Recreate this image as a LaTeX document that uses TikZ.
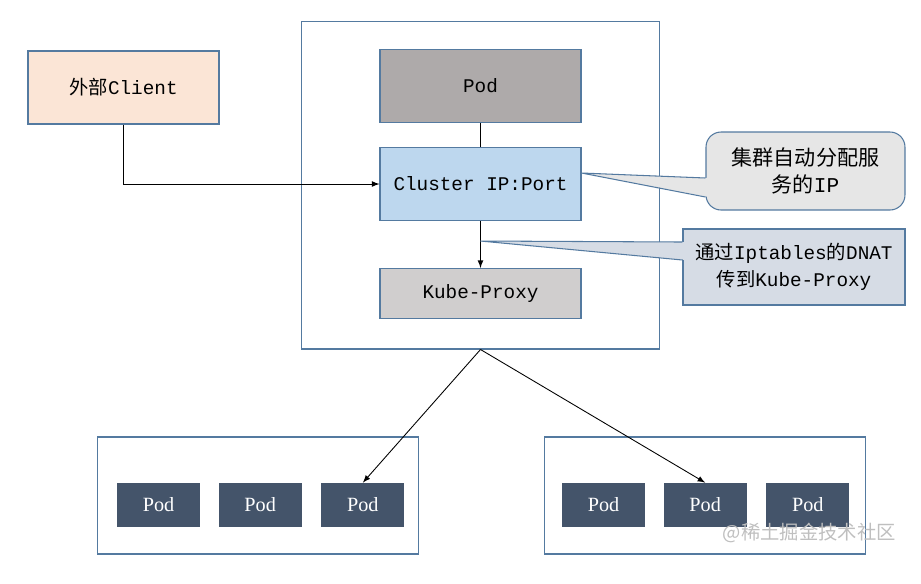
\documentclass[tikz,border=0pt]{standalone}
\usepackage{fontspec}
\setmainfont{Liberation Mono}
\newfontfamily\cjk{Noto Sans CJK SC}
\newfontfamily\podfont{Liberation Serif}
\usetikzlibrary{positioning,calc,arrows}

\definecolor{edgeblue}{RGB}{84,122,160}
\definecolor{clientfill}{RGB}{251,229,214}
\definecolor{podgray}{RGB}{174,170,170}
\definecolor{ipblue}{RGB}{189,215,238}
\definecolor{kpgray}{RGB}{208,206,206}
\definecolor{notegray}{RGB}{230,230,230}
\definecolor{noteblue}{RGB}{214,220,229}
\definecolor{poddark}{RGB}{68,84,106}

\begin{document}
\begin{tikzpicture}[
    x=0.02cm, y=-0.02cm,
    box/.style={rectangle, draw=edgeblue, line width=0.6pt, minimum width=4.02cm, minimum height=1.46cm, align=center, font=\fontsize{11}{15}\selectfont},
    pod/.style={rectangle, fill=poddark, text=white, minimum width=1.66cm, minimum height=0.88cm, font=\podfont\fontsize{11.5}{14}\selectfont},
    group/.style={rectangle, draw=edgeblue, line width=0.6pt, minimum width=6.44cm, minimum height=2.34cm},
    arrow/.style={-latex, line width=0.5pt}
]
    \useasboundingbox (0,0) rectangle (921,583);

    % cluster node
    \node[group, minimum width=7.18cm, minimum height=6.56cm] (cluster) at (480.5,185) {};
    \node[box, fill=ipblue] (cip) at (480.5,184) {Cluster IP:Port};
    \node[box, fill=podgray, above=0.48cm of cip] (master) {Pod};
    \node[box, fill=kpgray, minimum height=1cm, below=0.94cm of cip] (kp) {Kube-Proxy};
    \node[box, fill=clientfill, minimum width=3.82cm] (client) at (123.5,87.5) {{\cjk 外部}Client};

    \draw[line width=0.5pt] (master) -- (cip);
    \draw[arrow] (cip) -- (kp);
    \draw[arrow] (client.south) |- (cip.west);

    % notes
    \node[box, fill=notegray, rounded corners=0.3cm, minimum width=3.98cm, minimum height=1.56cm, font=\fontsize{12}{15}\selectfont] (note1) at (805.5,171) {{\cjk 集群自动分配服}\\{\cjk 务的}IP};
    \node[box, fill=noteblue, minimum width=4.44cm, minimum height=1.52cm] (note2) at (794,267) {{\cjk 通过}Iptables{\cjk 的}DNAT\\{\cjk 传到}Kube-Proxy};

    \coordinate (tip1) at ([yshift=0.22cm]cip.east);
    \coordinate (tip2) at ([yshift=-0.4cm]cip.south);
    \fill[notegray] ([xshift=2pt,yshift=-0.14cm]note1.west) -- (tip1) -- ([xshift=2pt,yshift=-0.52cm]note1.west) -- cycle;
    \draw[edgeblue, line width=0.6pt] ([yshift=-0.14cm]note1.west) -- (tip1) -- ([yshift=-0.52cm]note1.west);
    \fill[noteblue] ([xshift=2pt,yshift=0.5cm]note2.west) -- (tip2) -- ([xshift=2pt,yshift=0.14cm]note2.west) -- cycle;
    \draw[edgeblue, line width=0.6pt] ([yshift=0.5cm]note2.west) -- (tip2) -- ([yshift=0.14cm]note2.west);

    % node groups
    \node[group] (left) at (258,495.5) {};
    \node[group] (right) at (705,495.5) {};
    \node[pod] (l1) at (158.5,505) {Pod};
    \node[pod, right=0.36cm of l1] (l2) {Pod};
    \node[pod, right=0.38cm of l2] (l3) {Pod};
    \node[pod] (r1) at (603.5,505) {Pod};
    \node[pod, right=0.36cm of r1] (r2) {Pod};
    \node[pod, right=0.38cm of r2] (r3) {Pod};

    \draw[arrow] (cluster.south) -- (l3.north);
    \draw[arrow] (cluster.south) -- (r2.north);

    \node[text=black!25, font=\cjk\fontsize{11}{13}\selectfont, anchor=east] (wm) at (902,533) {@稀土掘金技术社区};
\end{tikzpicture}
\end{document}
